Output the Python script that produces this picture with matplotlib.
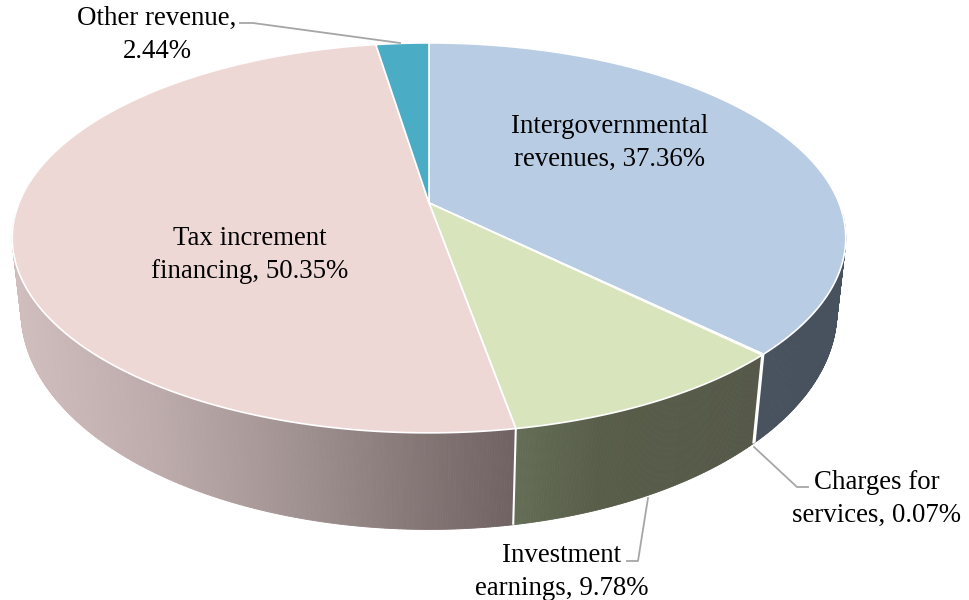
import numpy as np
import matplotlib
matplotlib.use("Agg")
import matplotlib.pyplot as plt
from matplotlib.collections import PolyCollection

categories = ["Intergovernmental revenues", "Charges for services",
              "Investment earnings", "Tax increment financing", "Other revenue"]
shares = [37.36, 0.07, 9.78, 50.35, 2.44]
label_lines = [("Intergovernmental", "revenues, 37.36%"), ("Charges for", "services, 0.07%"),
               ("Investment", "earnings, 9.78%"), ("Tax increment", "financing, 50.35%"),
               ("Other revenue,", "2.44%")]
top_colors = ["#B8CCE4", "#D8E4BC", "#D8E4BC", "#EED8D6", "#4BACC6"]
label_pos = [(610, 143), (877, 499), (562, 572), (250, 255), (157, 35)]
leaders = {1: [(754, 447), (797, 487), (808, 487)],
           2: [(648, 498), (638, 561), (627, 561)],
           4: [(400, 43), (253, 23), (240, 23)]}

# side shading: x-position -> rgb
side_x = {0: [750, 850], 1: [750, 760], 2: [515, 600, 760], 3: [15, 150, 300, 420, 515], 4: [0, 1]}
side_rgb = {0: [(72, 82, 94), (72, 82, 94)],
            1: [(72, 82, 94), (72, 82, 94)],
            2: [(100, 110, 86), (88, 93, 73), (85, 88, 72)],
            3: [(208, 189, 189), (190, 172, 172), (160, 145, 145), (133, 118, 118), (112, 98, 98)],
            4: [(40, 90, 105), (40, 90, 105)]}

CX, CY, A, B, K = 429.0, 203.0, 188.7, 410.0, 0.179
Y0B, AB, BB, KB = 274.0, 212.0, 402.0, 0.17


def top_xy(t):
    u, v = np.sin(t), -np.cos(t)
    d = 1 - K * v
    return CX + B * u / d, CY + A * v / d


def bot_xy(t):
    u, v = np.sin(t), -np.cos(t)
    d = 1 - KB * v
    return CX + BB * u / d, Y0B + AB * v / d


fig = plt.figure(figsize=(9.69, 6.0), dpi=100, facecolor="white")
ax = fig.add_axes([0, 0, 1, 1])
ax.set_xlim(0, 969)
ax.set_ylim(600, 0)
ax.axis("off")

edges = np.radians(np.concatenate([[0], np.cumsum(shares)]) * 3.6 / (sum(shares) / 100))

# sides
for i in range(len(shares)):
    t = np.linspace(edges[i], edges[i + 1], max(3, int(shares[i] * 12)))
    t = t[-np.cos(t) > 0.05] if (-np.cos(t) > 0.05).sum() >= 2 else np.array([])
    if len(t) < 2:
        continue
    xt, yt = top_xy(t)
    xb, yb = bot_xy(t)
    polys, cols = [], []
    for j in range(len(t) - 1):
        polys.append([(xt[j], yt[j]), (xt[j + 1], yt[j + 1]), (xb[j + 1], yb[j + 1]), (xb[j], yb[j])])
        xm = (xt[j] + xt[j + 1]) / 2
        rgb = np.array([np.interp(xm, side_x[i], [c[k] for c in side_rgb[i]]) for k in range(3)]) / 255
        cols.append(rgb)
    ax.add_collection(PolyCollection(polys, facecolors=cols, edgecolors=cols, linewidths=0.6, zorder=2))

# vertical separators on sides
for i in range(1, len(shares)):
    if -np.cos(edges[i]) > 0.05:
        xt, yt = top_xy(edges[i])
        xb, yb = bot_xy(edges[i])
        ax.plot([xt, xb], [yt, yb], color="white", lw=1.5, zorder=3, solid_capstyle="butt")

# top faces
for i in range(len(shares)):
    t = np.linspace(edges[i], edges[i + 1], max(2, int(shares[i] * 12)))
    xt, yt = top_xy(t)
    ax.fill(np.r_[CX, xt], np.r_[CY, yt], facecolor=top_colors[i], edgecolor="white", lw=1.2,
            joinstyle="round", zorder=4)

# leaders
for pts in leaders.values():
    ax.plot([p[0] for p in pts], [p[1] for p in pts], color="#A6A6A6", lw=1.3, zorder=5)

# labels
for lines, (x, y) in zip(label_lines, label_pos):
    ax.text(x, y, "\n".join(lines), ha="center", va="center", multialignment="center",
            family="Liberation Serif", fontsize=19.4, color="black", linespacing=1.39, zorder=6)

fig.savefig("out.png", dpi=100, facecolor="white")
